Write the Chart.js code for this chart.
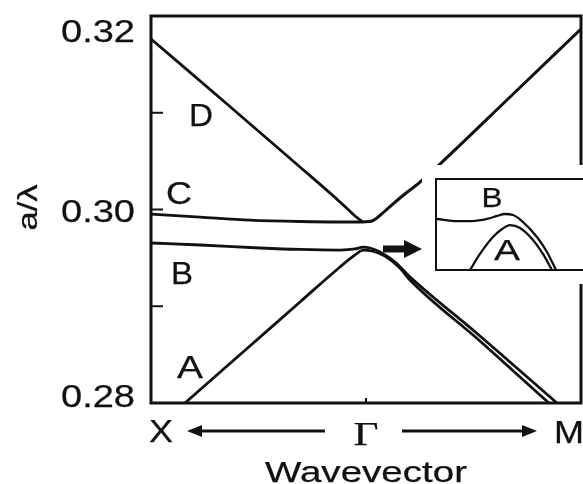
<!DOCTYPE html>
<html>
<head>
<meta charset="utf-8">
<script src="https://cdn.jsdelivr.net/npm/chart.js@4.4.1/dist/chart.umd.min.js"></script>
<style>
  html, body { margin: 0; padding: 0; background: #fff; overflow: hidden; }
  #wrap { position: relative; width: 583px; height: 484px; }
  #bands { position: absolute; left: 0; top: 0; }
  #zoomBox {
    position: absolute; left: 435px; top: 178px; width: 165px; height: 93px;
    box-sizing: border-box; border: 2px solid #111; background: #fff;
    box-shadow: 0 0 0 13px #fff;
  }
  #zoomBox canvas { display: block; }
</style>
</head>
<body>
<div id="wrap">
  <canvas id="bands" width="583" height="484"></canvas>
  <div id="zoomBox"><canvas id="zoom" width="161" height="89"></canvas></div>
</div>
<script>
// wavevector: -1 = X, 0 = Gamma, 1 = M ; frequency in a/lambda
const kD = [-1.000, -0.679, -0.307, -0.121, -0.051, -0.014];
const fD = [0.31762, 0.31152, 0.30439, 0.30078, 0.29933, 0.29871];

const kUp = [-0.014, 0.028, 0.088, 0.158, 0.251, 0.344, 0.670, 1.000];
const fUp = [0.29871, 0.29881, 0.29984, 0.30119, 0.30284, 0.30470, 0.31163, 0.31866];

const kC = [-1.000, -0.772, -0.540, -0.307, -0.121, -0.014];
const fC = [0.29953, 0.29922, 0.29891, 0.29876, 0.29871, 0.29871];

const kB = [-1.000, -0.772, -0.493, -0.307, -0.121, -0.051, -0.014, 0.019, 0.065, 0.135, 0.200, 0.530, 0.888, 1.000];
const fB = [0.29654, 0.29633, 0.29602, 0.29587, 0.29581, 0.29592, 0.29612, 0.29602, 0.29561, 0.29457, 0.29313, 0.28693, 0.28000, 0.27783];

const kA = [-1.000, -0.842, -0.540, -0.307, -0.121, -0.051, -0.014, 0.028, 0.088, 0.158, 0.200, 0.530, 0.851, 1.000];
const fA = [0.27690, 0.28000, 0.28589, 0.29044, 0.29406, 0.29530, 0.29581, 0.29571, 0.29519, 0.29395, 0.29282, 0.28641, 0.28000, 0.27711];

const yTicks = [0.28, 0.30, 0.32];
const yMinor = [0.29, 0.30, 0.31];

// close-up of bands A and B near Gamma (arbitrary units)
const zxB = [0.000, 0.124, 0.217, 0.311, 0.373, 0.422, 0.472, 0.528, 0.621, 0.683, 0.739];
const zyB = [0.562, 0.539, 0.539, 0.562, 0.596, 0.618, 0.607, 0.539, 0.360, 0.191, -0.011];
const zxA = [0.205, 0.267, 0.342, 0.404, 0.453, 0.516, 0.596, 0.658, 0.714];
const zyA = [-0.011, 0.169, 0.348, 0.449, 0.494, 0.461, 0.326, 0.169, -0.011];

const INK = '#111';
const SANS = '"Liberation Sans", Arial, sans-serif';
const SERIF = '"Liberation Serif", "Times New Roman", serif';

function pts(xs, ys) {
  return xs.map((x, i) => ({ x: x, y: ys[i] }));
}

function band(xs, ys, w) {
  return {
    data: pts(xs, ys),
    borderColor: INK,
    borderWidth: w,
    pointRadius: 0,
    fill: false,
    cubicInterpolationMode: 'monotone'
  };
}

// text centred on (cx, cy), squeezed/stretched to a given width
function text(ctx, str, cx, cy, size, width, family, rot) {
  ctx.save();
  ctx.font = size + 'px ' + (family || SANS);
  const w = ctx.measureText(str).width;
  ctx.translate(cx, cy);
  if (rot) ctx.rotate(rot);
  ctx.scale(width / w, 1);
  ctx.fillStyle = INK;
  ctx.strokeStyle = INK;
  ctx.lineWidth = 0.25;
  ctx.textAlign = 'center';
  ctx.textBaseline = 'alphabetic';
  ctx.fillText(str, 0, size * 0.358);
  ctx.strokeText(str, 0, size * 0.358);
  ctx.restore();
}

function arrow(ctx, x1, x2, y, lw, headLen, headHalf) {
  const dir = Math.sign(x2 - x1);
  ctx.save();
  ctx.strokeStyle = INK;
  ctx.fillStyle = INK;
  ctx.lineWidth = lw;
  ctx.beginPath();
  ctx.moveTo(x1, y);
  ctx.lineTo(x2 - dir * headLen * 0.8, y);
  ctx.stroke();
  ctx.beginPath();
  ctx.moveTo(x2, y);
  ctx.lineTo(x2 - dir * headLen, y - headHalf);
  ctx.lineTo(x2 - dir * headLen, y + headHalf);
  ctx.closePath();
  ctx.fill();
  ctx.restore();
}

const decorations = {
  id: 'decorations',
  afterDraw(chart) {
    const ctx = chart.ctx;
    const a = chart.chartArea;
    const xs = chart.scales.x;
    const ys = chart.scales.y;

    ctx.save();
    ctx.strokeStyle = INK;
    ctx.lineWidth = 3;
    ctx.strokeRect(a.left, a.top, a.right - a.left, a.bottom - a.top);

    // inward ticks
    ctx.lineWidth = 2;
    yMinor.forEach(v => {
      const y = ys.getPixelForValue(v);
      ctx.beginPath();
      ctx.moveTo(a.left, y);
      ctx.lineTo(a.left + 12, y);
      ctx.stroke();
    });
    const gx = xs.getPixelForValue(0);
    ctx.beginPath();
    ctx.moveTo(gx, a.bottom);
    ctx.lineTo(gx, a.bottom - 5);
    ctx.stroke();
    ctx.restore();

    // y tick labels, kept inside the frame height
    yTicks.forEach(v => {
      let y = ys.getPixelForValue(v);
      y = Math.min(Math.max(y, a.top + 14), a.bottom - 8);
      text(ctx, v.toFixed(2), a.left - 53, y + 1, 31, 74);
    });
    text(ctx, 'a/\u03bb', 27, (a.top + a.bottom) / 2 - 2, 27, 46, SANS, -Math.PI / 2);

    // band names
    [['D', -0.767, 0.30977, 24], ['C', -0.870, 0.30171, 26],
     ['B', -0.856, 0.29344, 22], ['A', -0.819, 0.28372, 26]].forEach(l => {
      text(ctx, l[0], xs.getPixelForValue(l[1]), ys.getPixelForValue(l[2]), 32, l[3]);
    });

    // pointer to the close-up
    arrow(ctx, gx + 17, gx + 56, ys.getPixelForValue(0.29592), 7, 18, 9);

    // symmetry points
    const ly = a.bottom + 28;
    text(ctx, 'X', a.left + 10, ly, 31, 24);
    text(ctx, '\u0393', gx, ly + 2, 33, 25, SERIF);
    text(ctx, 'M', a.right - 12, ly + 1, 31, 30);
    arrow(ctx, gx - 41, a.left + 36, ly, 3, 15, 6);
    arrow(ctx, gx + 36, a.right - 44, ly, 3, 15, 6);

    text(ctx, 'Wavevector', gx, a.bottom + 69, 29, 202);
  }
};

new Chart(document.getElementById('bands'), {
  type: 'line',
  data: {
    datasets: [
      band(kD, fD, 2.8),
      band(kUp, fUp, 3),
      band(kC, fC, 2.8),
      band(kB, fB, 2.8),
      band(kA, fA, 2.8)
    ]
  },
  options: {
    responsive: false,
    animation: false,
    devicePixelRatio: 1,
    layout: { padding: { left: 151, top: 16, right: 2, bottom: 81 } },
    plugins: { legend: { display: false }, tooltip: { enabled: false } },
    scales: {
      x: { type: 'linear', min: -1, max: 1, display: false },
      y: { type: 'linear', min: 0.28, max: 0.32, display: false }
    }
  },
  plugins: [decorations]
});

const zoomLabels = {
  id: 'zoomLabels',
  afterDraw(chart) {
    const ctx = chart.ctx;
    const xs = chart.scales.x;
    const ys = chart.scales.y;
    text(ctx, 'B', xs.getPixelForValue(0.342), ys.getPixelForValue(0.803), 27, 21);
    text(ctx, 'A', xs.getPixelForValue(0.435), ys.getPixelForValue(0.225), 30, 26);
  }
};

new Chart(document.getElementById('zoom'), {
  type: 'line',
  data: {
    datasets: [
      band(zxB, zyB, 2.3),
      band(zxA, zyA, 2.3)
    ]
  },
  options: {
    responsive: false,
    animation: false,
    devicePixelRatio: 1,
    layout: { padding: 0 },
    plugins: { legend: { display: false }, tooltip: { enabled: false } },
    scales: {
      x: { type: 'linear', min: 0, max: 1, display: false },
      y: { type: 'linear', min: 0, max: 1, display: false }
    }
  },
  plugins: [zoomLabels]
});
</script>
</body>
</html>
